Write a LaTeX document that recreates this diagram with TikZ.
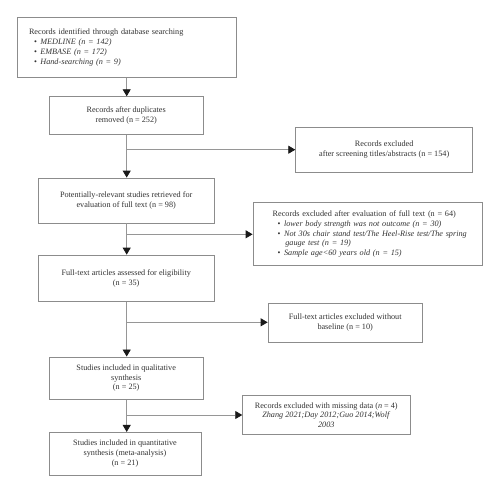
\documentclass[tikz,border=0pt]{standalone}
\usepackage{fontspec}
\setmainfont{Liberation Serif}
\usetikzlibrary{arrows.meta}
\definecolor{linegray}{RGB}{150,150,150}
\definecolor{boxgray}{RGB}{140,140,140}
\definecolor{txt}{RGB}{50,50,50}
\definecolor{tipc}{RGB}{25,25,25}
\newcommand{\bul}{\hspace*{5pt}\textbullet\hspace{3.5pt}}
\newcommand{\ia}{\hspace*{11.7pt}}
\newcommand{\ib}{\hspace*{19.7pt}}
\begin{document}
\begin{tikzpicture}[x=1pt,y=-1pt,
  box/.style={draw=boxgray, line width=0.8pt, rectangle, inner sep=0pt, text=txt,
    font=\fontsize{8.2}{9.7}\selectfont, align=center},
  conn/.style={draw=linegray, line width=0.8pt, -{Triangle[length=7pt,width=8pt,fill=tipc,color=tipc]}},
  seg/.style={draw=linegray, line width=0.8pt}]
\useasboundingbox (0,0) rectangle (500,493);
\node[box, minimum width=219.4pt, minimum height=60.4pt, text width=219.4pt, align=left] (b1) at (127,47.5)
 {\mbox{\ia Records identified through database searching}\\[0.6pt]
  \mbox{\ia\bul\textit{MEDLINE (n = 142)}}\\[0.6pt]
  \mbox{\ia\bul\textit{EMBASE (n = 172)}}\\[0.6pt]
  \mbox{\ia\bul\textit{Hand-searching (n = 9)}}};
\node[box, minimum width=154.3pt, minimum height=37.6pt] (b2) at (126.2,115.5)
 {Records after duplicates\\removed (n = 252)};
\node[box, minimum width=177pt, minimum height=44.3pt] (b3) at (384.2,149.8)
 {Records excluded\\after screening titles/abstracts (n = 154)};
\node[box, minimum width=176.3pt, minimum height=45pt] (b4) at (126.2,200.5)
 {Potentially-relevant studies retrieved for\\evaluation of full text (n = 98)};
\node[box, minimum width=229pt, minimum height=63pt, text width=229pt, align=left] (b5) at (367.5,234.2)
 {\mbox{\ib Records excluded after evaluation of full text (n = 64)}\\
  \mbox{\ib\bul\textit{lower body strength was not outcome (n = 30)}}\\
  \mbox{\ib\bul\textit{Not 30s chair stand test/The Heel-Rise test/The spring}}\\
  \mbox{\ib\hspace*{12.6pt}\textit{gauge test (n = 19)}}\\
  \mbox{\ib\bul\textit{Sample age<60 years old (n = 15)}}};
\node[box, minimum width=176.3pt, minimum height=46.3pt] (b6) at (126.2,278.2)
 {Full-text articles assessed for eligibility\\(n = 35)};
\node[box, minimum width=154.3pt, minimum height=38.7pt] (b7) at (345.2,322.7)
 {Full-text articles excluded without\\baseline (n = 10)};
\node[box, minimum width=154.3pt, minimum height=42.7pt] (b8) at (126.2,378.3)
 {Studies included in qualitative\\synthesis\\(n = 25)};
\node[box, minimum width=167.3pt, minimum height=38.6pt] (b9) at (326.3,415)
 {Records excluded with missing data (\textit{n} = 4)\\\textit{Zhang 2021;Day 2012;Guo 2014;Wolf}\\\textit{2003}};
\node[box, minimum width=152pt, minimum height=42.7pt] (b10) at (125,453.7)
 {Studies included in quantitative\\synthesis (meta-analysis)\\(n = 21)};
\coordinate (t1) at (126.7,77.7);
\coordinate (j1) at (126.7,149.7);
\coordinate (j2) at (126.7,234.3);
\coordinate (j3) at (126.7,322.3);
\coordinate (j4) at (126.7,415);
\draw[conn] (t1) -- (t1 |- b2.north);
\draw[conn] (t1 |- b2.south) -- (t1 |- b4.north);
\draw[conn] (j1) -- (j1 -| b3.west);
\draw[conn] (t1 |- b4.south) -- (t1 |- b6.north);
\draw[conn] (j2) -- (j2 -| b5.west);
\draw[conn] (t1 |- b6.south) -- (t1 |- b8.north);
\draw[conn] (j3) -- (j3 -| b7.west);
\draw[conn] (t1 |- b8.south) -- (t1 |- b10.north);
\draw[conn] (j4) -- (j4 -| b9.west);
\end{tikzpicture}
\end{document}
